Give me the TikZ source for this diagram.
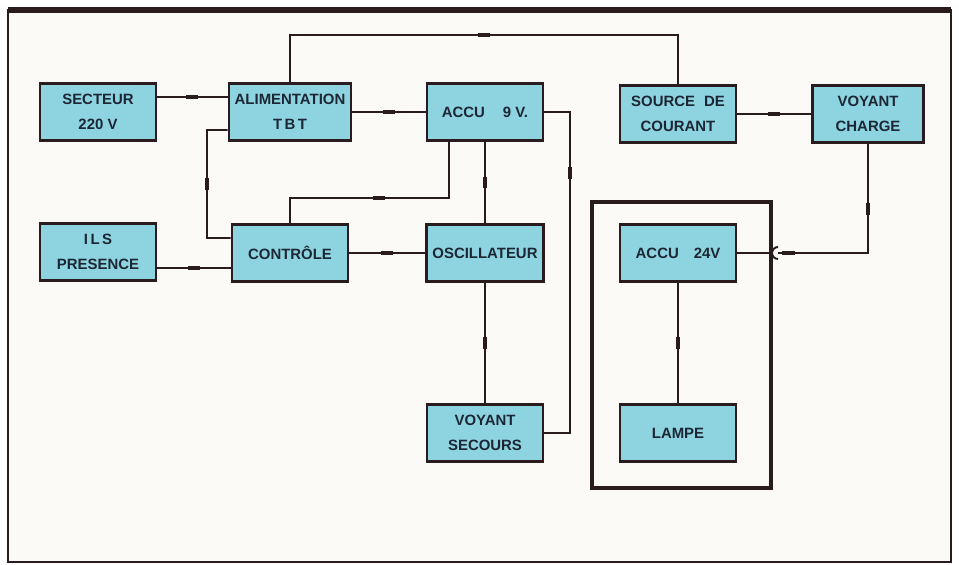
\documentclass[tikz,border=0pt]{standalone}
\usepackage{fontspec}
\setmainfont{Liberation Sans}
\usepackage{tikz}
\usetikzlibrary{positioning,calc}

\definecolor{boxfill}{HTML}{8ED4E0}
\definecolor{wirec}{HTML}{2A1C1E}
\definecolor{paper}{HTML}{FBFAF6}
\definecolor{inkc}{HTML}{1C2634}

\begin{document}
\begin{tikzpicture}[
    x=0.02cm, y=-0.02cm,
    block/.style={draw=wirec, line width=1.5pt, fill=boxfill, minimum width=2.32cm, minimum height=1.14cm,
                  align=center, font=\bfseries\fontsize{8.5}{14}\selectfont, text=inkc},
    wire/.style={draw=wirec, line width=1.1pt},
    hbar/.style={fill=wirec, inner sep=0pt, minimum width=0.24cm, minimum height=2.4pt},
    vbar/.style={fill=wirec, inner sep=0pt, minimum width=2.4pt, minimum height=0.24cm}
]
\useasboundingbox (0,0) rectangle (959,564);
\fill[white] (0,0) rectangle (959,564);
\fill[paper] (8,10) rectangle (951,562);
\draw[wirec, line width=1.2pt] (8,10) rectangle (951,562);
\draw[wirec, line width=3pt] (8,10) -- (951,10);

% blocks, top row
\node[block] (secteur) at (98,112) {SECTEUR\\220 V};
\node[block] (alim) at (290,112) {ALIMENTATION\\T\,B\,T};
\node[block] (accuneuf) at (485,112) {ACCU\hspace{1.2em}9 V.};
\node[block] (source) at (678,114) {SOURCE\hspace{0.6em}DE\\COURANT};
\node[block, minimum width=2.22cm] (vcharge) at (868,114) {VOYANT\\CHARGE};
% middle row
\node[block] (ils) at (98,252) {I\,L\,S\\PRESENCE};
\node[block] (controle) at (290,253) {CONTRÔLE};
\node[block] (oscil) at (485,253) {OSCILLATEUR};
\node[block] (accuvq) at (678,253) {ACCU\hspace{1em}24V};
% bottom row
\node[block] (vsecours) at (485,433) {VOYANT\\SECOURS};
\node[block] (lampe) at (678,433) {LAMPE};

% enclosure
\draw[wirec, line width=2.6pt] (592,202) rectangle (771,488);

% connectors
\coordinate (topl) at (290,35);
\coordinate (topr) at (678,35);
\draw[wire] (alim.north) -- (topl) -- node[hbar]{} (topr) -- (source.north);
\draw[wire] ([yshift=0.3cm]secteur.east) -- node[hbar]{} ([yshift=0.3cm]secteur.east -| alim.west);
\draw[wire] (alim.east) -- node[hbar]{} (accuneuf.west);
\coordinate (retl) at (207,130);
\draw[wire] ([yshift=-0.36cm]alim.west) -- (retl) |- node[vbar, pos=0.25]{} ([yshift=0.3cm]controle.west);
\draw[wire] ([yshift=-0.32cm]ils.east) -- node[hbar]{} ([yshift=-0.32cm]ils.east -| controle.west);
\draw[wire] (controle.east) -- node[hbar]{} (oscil.west);
\coordinate (cjoin) at (290,198);
\draw[wire] ([xshift=-0.72cm]accuneuf.south) |- node[hbar, pos=0.72]{} (cjoin) -- (controle.north);
\draw[wire] (accuneuf.south) -- node[vbar]{} (oscil.north);
\coordinate (rtop) at (570,112);
\coordinate (rbot) at (570,433);
\draw[wire] (accuneuf.east) -- (rtop) -- node[vbar, pos=0.19]{} (rbot) -- (vsecours.east);
\draw[wire] (oscil.south) -- node[vbar]{} (vsecours.north);
\draw[wire] (source.east) -- node[hbar]{} (vcharge.west);
\coordinate (plug) at (778,253);
\draw[wire] (vcharge.south) |- node[vbar, pos=0.3]{} (plug);
\node[hbar, minimum width=0.26cm] (plugbar) at (788,253) {};
\draw[wire] ([yshift=0.12cm]plug) arc[start angle=90, end angle=270, radius=0.12cm];
\draw[wire] (accuvq.east) -- ([xshift=-0.12cm]plug);
\draw[wire] (accuvq.south) -- node[vbar]{} (lampe.north);
\end{tikzpicture}
\end{document}
